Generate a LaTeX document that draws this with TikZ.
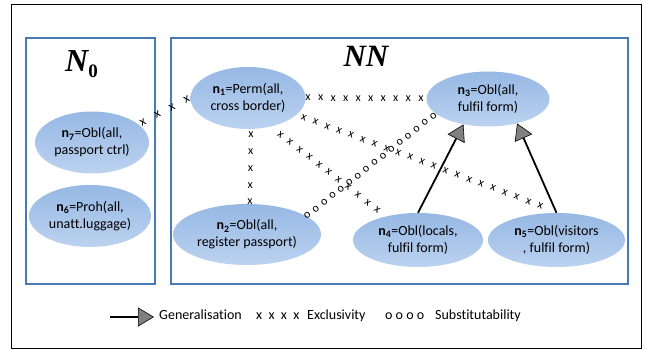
\documentclass[tikz,border=0pt]{standalone}
\usepackage{fontspec}
\setmainfont{Carlito}[Ligatures=NoCommon]
\newfontfamily\serifbi{Liberation Serif}
\usetikzlibrary{shapes.geometric,arrows.meta}
\definecolor{boxblue}{RGB}{74,122,182}
\definecolor{elltop}{RGB}{150,184,228}
\definecolor{ellbot}{RGB}{188,210,240}
\definecolor{arrowgray}{RGB}{128,128,128}
\begin{document}
\begin{tikzpicture}[x=1pt,y=-1pt,
  norm/.style={ellipse, inner sep=0pt, top color=elltop, bottom color=ellbot, draw=none, align=center, font=\fontsize{14}{17}\selectfont},
  grp/.style={draw=boxblue, line width=2.2pt},
  xmk/.style={inner sep=0pt, font=\fontsize{12}{12}\selectfont, sloped},
  bigx/.style={inner sep=0pt, font=\fontsize{13}{13}\selectfont, sloped},
  gen/.style={line width=1.8pt, -{Triangle[length=16pt,width=19pt,fill=arrowgray,line width=0.6pt]}},
  lgd/.style={anchor=base west, inner sep=0pt, font=\fontsize{14}{17}\selectfont}
]
\useasboundingbox (0,0) rectangle (646,350);
\draw[black, line width=0.8pt] (11,4) rectangle (641,348);
\draw[grp] (26,38) rectangle (155,284);
\draw[grp] (171,38) rectangle (628,284);

\node[anchor=base west, inner sep=0pt] (lblN0) at (65,72) {\serifbi\fontsize{32}{32}\selectfont\bfseries\itshape N\raisebox{-6pt}{\fontsize{19}{19}\selectfont\upshape 0}};
\node[anchor=base, inner sep=0pt] (lblNN) at (366,67) {\serifbi\fontsize{31}{31}\selectfont\bfseries\itshape NN};

\node[norm, minimum width=114pt, minimum height=62pt] (n7) at (92,142.5) {\textbf{n}\textsubscript{\textbf{7}}=Obl(all,\\passport ctrl)};
\node[norm, minimum width=122pt, minimum height=62pt] (n6) at (90,216) {\textbf{n}\textsubscript{\textbf{6}}=Proh(all,\\unatt.luggage)};
\node[norm, minimum width=115pt, minimum height=62pt] (n1) at (248,98) {\textbf{n}\textsubscript{\textbf{1}}=Perm(all,\\cross border)};
\node[norm, minimum width=148pt, minimum height=61pt] (n2) at (247,234.5) {\textbf{n}\textsubscript{\textbf{2}}=Obl(all,\\register passport)};
\node[norm, minimum width=123pt, minimum height=55pt] (n3) at (488,99) {\textbf{n}\textsubscript{\textbf{3}}=Obl(all,\\fulfil form)};
\node[norm, minimum width=130pt, minimum height=54pt] (n4) at (418,240) {\textbf{n}\textsubscript{\textbf{4}}=Obl(locals,\\fulfil form)};
\node[norm, minimum width=137pt, minimum height=54pt] (n5) at (556.5,240) {\textbf{n}\textsubscript{\textbf{5}}=Obl(visitors\\, fulfil form)};

% exclusivity
\path (n7.21) -- (n1.180) foreach \p in {0.079,0.362,0.645,0.928} {node[bigx,pos=\p]{x}};
\path (n1.east) -- (n3.west) foreach \p in {0.020,0.124,0.228,0.332,0.436,0.539,0.643,0.747,0.851,0.955} {node[xmk,pos=\p]{x}};
\path ([xshift=3pt]n1.south) -- ([xshift=3pt]n2.north) foreach \p in {0.070,0.297,0.524,0.750,0.977} {node[inner sep=0pt,font=\fontsize{12}{12}\selectfont,pos=\p]{x}};
\path (n1.-19) -- (n5.85) foreach \p in {0.027,0.072,0.117,0.162,0.207,0.252,0.297,0.343,0.388,0.433,0.478,0.523,0.568,0.613,0.658,0.703,0.749,0.794,0.839,0.884,0.929} {node[xmk,pos=\p]{x}};
\path (n1.-52) -- (n4.144) foreach \p in {0.086,0.170,0.254,0.339,0.423,0.507,0.591,0.675,0.760,0.844,0.928} {node[xmk,pos=\p]{x}};
% substitutability
\path (n2.17) -- (n3.196) foreach \p in {0.006,0.071,0.136,0.201,0.265,0.330,0.395,0.460,0.525,0.590,0.655,0.720,0.784,0.849,0.914,0.979} {node[xmk,pos=\p]{o}};

% generalisation
\draw[gen] (n4.north) -- (n3.226);
\draw[gen] (n5.north) -- (n3.-40);

% legend
\coordinate (lgA) at (110,317);
\coordinate (lgB) at (154,317);
\draw[gen] (lgA) -- (lgB);
\node[lgd] (lgGen) at (159,319) {Generalisation};
\node[lgd] (lgX) at (256,319) {x\hspace{6.3pt}x\hspace{6.3pt}x\hspace{6.3pt}x};
\node[lgd] (lgExc) at (307,319) {Exclusivity};
\node[lgd] (lgO) at (385,319) {o o o o};
\node[lgd] (lgSub) at (435,319) {Substitutability};
\end{tikzpicture}
\end{document}
